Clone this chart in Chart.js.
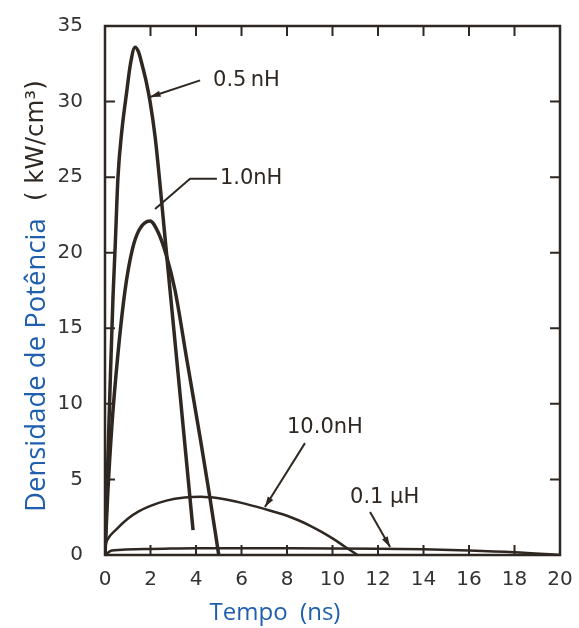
<!DOCTYPE html>
<html>
<head>
<meta charset="utf-8">
<script src="https://cdn.jsdelivr.net/npm/chart.js@4.4.1/dist/chart.umd.min.js"></script>
<style>
    html, body { margin: 0; padding: 0; background: #fff; }
    #wrap { width: 579px; height: 628px; position: relative; }
</style>
</head>
<body>
<div id="wrap"><canvas id="chart"></canvas></div>
<script>
// values (time in ns, power density in kW/cm3)
const time05 = [0, 0.1, 0.22, 0.35, 0.45, 0.57, 0.75, 0.95, 1.12, 1.32, 1.47, 1.62, 1.8, 1.98, 2.2, 2.4, 2.6, 2.86, 3.2, 3.55, 3.87];
const power05 = [0, 5, 11, 17, 20.5, 25, 28.2, 30.6, 32.5, 33.6, 33.3, 32.5, 31.4, 30, 27.7, 24.8, 21.6, 17.5, 12.2, 6.7, 1.65];

const time10 = [0, 0.12, 0.3, 0.55, 0.88, 1.2, 1.5, 1.98, 2.35, 2.7, 3.08, 3.6, 4.2, 4.6, 5.0];
const power10 = [0, 4, 8.5, 13, 17.5, 20.2, 21.5, 22.1, 21.3, 19.8, 17.5, 12.9, 7.6, 3.9, 0];

const time100 = [0, 0.1, 0.5, 1.0, 1.5, 2, 2.7, 3.5, 4.2, 5, 6, 7, 8, 8.5, 9, 9.5, 10, 10.5, 11.1];
const power100 = [0.6, 1.0, 1.7, 2.4, 2.9, 3.25, 3.6, 3.8, 3.85, 3.75, 3.45, 3.05, 2.6, 2.3, 1.95, 1.55, 1.1, 0.6, 0];

const timeMicro = [0, 0.3, 2, 4, 8, 12, 14, 16, 18, 20];
const powerMicro = [0, 0.3, 0.4, 0.45, 0.45, 0.42, 0.38, 0.3, 0.18, 0];

const seriesNames = ['0.5\u2009nH', '1.0nH', '10.0nH', '0.1 μH'];

const xTitle = 'Tempo  (ns)';
const yTitleBlue = 'Densidade de Potência';
const yTitleBlack = '( kW/cm³)';

const INK = '#2f2822';
const BLUE = '#1f5fae';

function toPoints(xs, ys) {
    return xs.map((x, i) => ({x, y: ys[i]}));
}

// callouts placed in data units, converted through the scales
const callouts = [
    {text: seriesNames[0], at: [4.75, 31.4], path: [[4.18, 31.4], [1.98, 30.3]], head: true},
    {text: seriesNames[1], at: [5.05, 24.9], path: [[4.92, 24.9], [3.74, 24.9], [2.2, 22.9]], head: false},
    {text: seriesNames[2], at: [8.0, 8.4], path: [[8.79, 7.4], [7.03, 3.17]], head: true},
    {text: seriesNames[3], at: [10.77, 3.83], path: [[11.65, 2.84], [12.53, 0.53]], head: true},
];

const framePlugin = {
    id: 'frame',
    afterDatasetsDraw(chart) {
        const {ctx, chartArea: a, scales: {x, y}} = chart;
        ctx.save();
        ctx.strokeStyle = INK;
        ctx.lineWidth = 2.5;
        ctx.strokeRect(a.left, a.top, a.right - a.left, a.bottom - a.top);

        // inward ticks on all four sides
        ctx.lineWidth = 2;
        const len = 10;
        for (const t of x.ticks) {
            if (t.value <= x.min || t.value >= x.max) continue;
            const px = x.getPixelForValue(t.value);
            ctx.beginPath();
            ctx.moveTo(px, a.bottom); ctx.lineTo(px, a.bottom - len);
            ctx.moveTo(px, a.top); ctx.lineTo(px, a.top + len);
            ctx.stroke();
        }
        for (const t of y.ticks) {
            if (t.value <= y.min || t.value >= y.max) continue;
            const py = y.getPixelForValue(t.value);
            ctx.beginPath();
            ctx.moveTo(a.left, py); ctx.lineTo(a.left + len, py);
            ctx.moveTo(a.right, py); ctx.lineTo(a.right - len, py);
            ctx.stroke();
        }

        // callouts
        ctx.fillStyle = INK;
        ctx.font = '21px "DejaVu Sans"';
        ctx.textBaseline = 'middle';
        ctx.textAlign = 'left';
        ctx.lineWidth = 2;
        for (const c of callouts) {
            ctx.fillText(c.text, x.getPixelForValue(c.at[0]), y.getPixelForValue(c.at[1]));
            const pts = c.path.map(p => [x.getPixelForValue(p[0]), y.getPixelForValue(p[1])]);
            ctx.beginPath();
            pts.forEach((p, i) => i ? ctx.lineTo(p[0], p[1]) : ctx.moveTo(p[0], p[1]));
            ctx.stroke();
            if (c.head) {
                const [x1, y1] = pts[pts.length - 2];
                const [x2, y2] = pts[pts.length - 1];
                const ang = Math.atan2(y2 - y1, x2 - x1);
                ctx.beginPath();
                ctx.moveTo(x2, y2);
                ctx.lineTo(x2 - 11 * Math.cos(ang - 0.3), y2 - 11 * Math.sin(ang - 0.3));
                ctx.lineTo(x2 - 11 * Math.cos(ang + 0.3), y2 - 11 * Math.sin(ang + 0.3));
                ctx.closePath();
                ctx.fill();
            }
        }

        // axis titles
        ctx.textAlign = 'center';
        ctx.textBaseline = 'alphabetic';
        ctx.fillStyle = BLUE;
        ctx.font = '24px "Open Sans"';
        ctx.fillText(xTitle, 275, 620);

        ctx.translate(45, 0);
        ctx.rotate(-Math.PI / 2);
        ctx.textAlign = 'left';
        ctx.font = '27.5px "Open Sans"';
        ctx.fillText(yTitleBlue, -512, 0);
        ctx.translate(0, -2);
        ctx.fillStyle = INK;
        ctx.font = '24.5px "DejaVu Sans"';
        ctx.fillText(yTitleBlack, -201, 0);
        ctx.restore();
    }
};

const line = (data, width) => ({
    data,
    showLine: true,
    borderColor: INK,
    borderWidth: width,
    pointRadius: 0,
    cubicInterpolationMode: 'monotone',
});

new Chart(document.getElementById('chart'), {
    type: 'scatter',
    data: {
        datasets: [
            line(toPoints(time05, power05), 3.5),
            line(toPoints(time10, power10), 3.5),
            line(toPoints(time100, power100), 2.5),
            line(toPoints(timeMicro, powerMicro), 2.5),
        ]
    },
    options: {
        responsive: true,
        maintainAspectRatio: false,
        animation: false,
        layout: {padding: {top: 25, right: 19, left: 0, bottom: 0}},
        plugins: {legend: {display: false}, tooltip: {enabled: false}},
        scales: {
            x: {
                min: 0, max: 20,
                grid: {display: false},
                border: {display: false},
                afterFit(scale) { scale.height = 73; },
                ticks: {stepSize: 2, color: '#333', padding: 5, maxRotation: 0,
                    font: {family: 'DejaVu Sans', size: 20}},
            },
            y: {
                min: 0, max: 35,
                grid: {display: false},
                border: {display: false},
                afterFit(scale) { scale.width = 105; },
                ticks: {stepSize: 5, color: '#333', padding: 14,
                    font: {family: 'DejaVu Sans', size: 20}},
            }
        }
    },
    plugins: [framePlugin]
});
</script>
</body>
</html>
